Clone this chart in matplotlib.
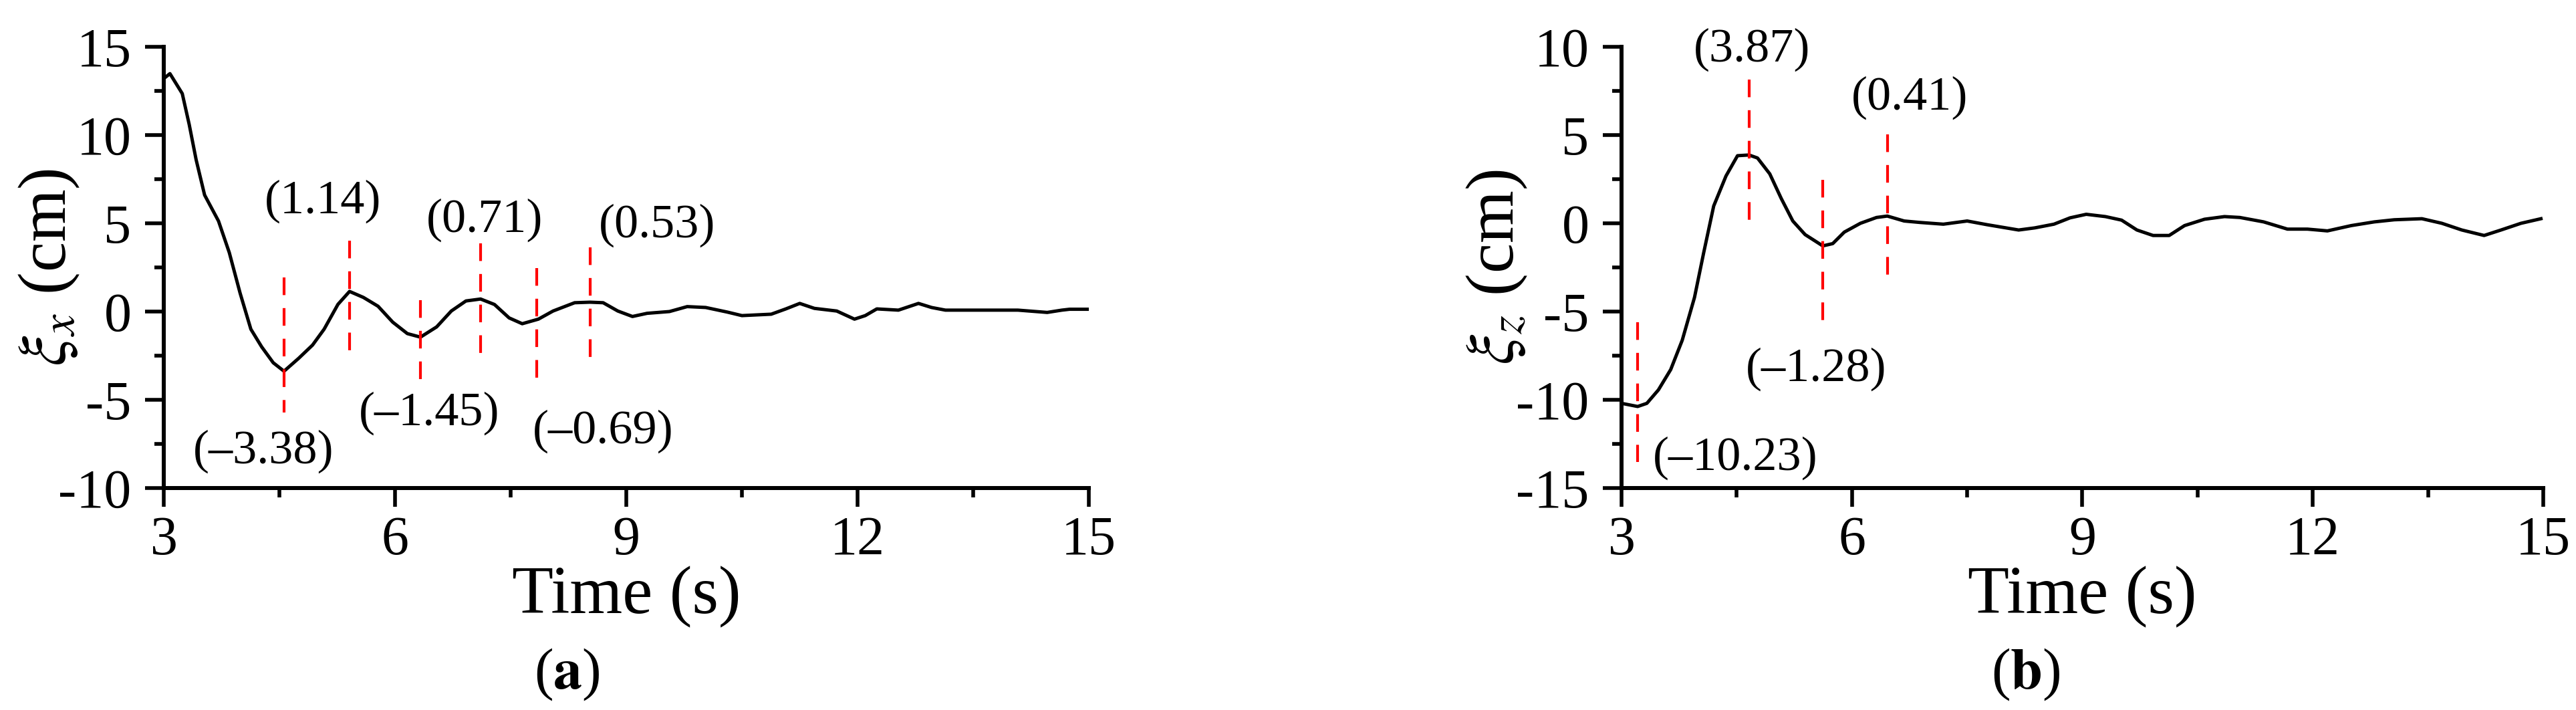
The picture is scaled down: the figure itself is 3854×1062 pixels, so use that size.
import matplotlib
matplotlib.use("Agg")
import matplotlib.pyplot as plt
from matplotlib.ticker import MultipleLocator

plt.rcParams['font.family'] = ['Liberation Serif', 'DejaVu Serif']
plt.rcParams['mathtext.fontset'] = 'stix'
plt.rcParams['axes.unicode_minus'] = False
plt.rcParams['lines.scale_dashes'] = False

# ---------------- data: panel (a) ----------------
t_x = [3.0, 3.08, 3.24, 3.33, 3.42, 3.53, 3.71, 3.85, 3.99, 4.13, 4.27, 4.42, 4.56,
       4.75, 4.93, 5.08, 5.26, 5.41, 5.59, 5.78, 5.97, 6.16, 6.33, 6.54, 6.73, 6.92,
       7.11, 7.29, 7.48, 7.65, 7.86, 8.05, 8.33, 8.53, 8.7, 8.89, 9.08, 9.27, 9.56,
       9.79, 10.03, 10.31, 10.5, 10.88, 11.07, 11.25, 11.44, 11.73, 11.96, 12.1,
       12.25, 12.53, 12.79, 12.96, 13.14, 13.62, 14.08, 14.46, 14.65, 14.75, 15.0]
xi_x = [13.2, 13.48, 12.35, 10.6, 8.6, 6.6, 5.13, 3.34, 1.05, -1.0, -2.0, -2.9, -3.38,
        -2.65, -1.9, -1.0, 0.41, 1.14, 0.8, 0.3, -0.6, -1.25, -1.45, -0.87, 0.03, 0.6,
        0.71, 0.4, -0.36, -0.69, -0.43, 0.03, 0.5, 0.53, 0.5, 0.03, -0.28, -0.1, 0.0,
        0.28, 0.23, -0.03, -0.23, -0.15, 0.15, 0.46, 0.18, 0.03, -0.43, -0.23,
        0.15, 0.08, 0.46, 0.23, 0.08, 0.08, 0.08, -0.05, 0.08, 0.13, 0.13]

mark_t_x = [4.56, 5.41, 6.33, 7.11, 7.84, 8.53]
mark_top_x = [1.94, 4.03, 0.66, 3.85, 2.45, 3.65]
mark_bot_x = [-5.71, -2.27, -3.93, -2.53, -3.80, -2.65]
label_text_x = ['(\u20133.38)', '(1.14)', '(\u20131.45)', '(0.71)', '(\u20130.69)', '(0.53)']
label_t_x = [4.29, 5.06, 6.44, 7.16, 8.70, 9.40]
label_v_x = [-7.93, 6.25, -5.77, 5.19, -6.79, 4.89]

# ---------------- data: panel (b) ----------------
t_z = [3.0, 3.21, 3.33, 3.48, 3.64, 3.79, 3.95, 4.07, 4.20, 4.36, 4.51, 4.66, 4.77,
       4.93, 5.08, 5.23, 5.39, 5.62, 5.75, 5.9, 6.11, 6.32, 6.46, 6.68, 6.88, 7.19,
       7.5, 7.76, 8.17, 8.38, 8.63, 8.84, 9.05, 9.3, 9.51, 9.71, 9.92, 10.13, 10.33,
       10.59, 10.85, 11.05, 11.36, 11.67, 11.93, 12.19, 12.5, 12.8, 13.06, 13.42,
       13.68, 13.94, 14.23, 14.45, 14.71, 14.97]
xi_z = [-10.2, -10.38, -10.2, -9.44, -8.29, -6.63, -4.2, -1.66, 0.98, 2.68, 3.83, 3.87,
        3.7, 2.8, 1.4, 0.13, -0.64, -1.28, -1.15, -0.5, 0.0, 0.33, 0.41, 0.13, 0.05,
        -0.05, 0.13, -0.08, -0.38, -0.26, -0.05, 0.31, 0.51, 0.38, 0.18, -0.38, -0.69,
        -0.69, -0.13, 0.23, 0.38, 0.33, 0.08, -0.33, -0.33, -0.43, -0.13, 0.08, 0.2,
        0.26, 0.0, -0.38, -0.69, -0.38, 0.0, 0.26]

mark_t_z = [3.21, 4.66, 5.62, 6.46]
mark_top_z = [-5.61, 8.16, 2.47, 5.05]
mark_bot_z = [-13.52, 0.13, -5.54, -2.93]
label_text_z = ['(\u201310.23)', '(3.87)', '(\u20131.28)', '(0.41)']
label_t_z = [4.48, 4.70, 5.53, 6.75]
label_v_z = [-13.29, 9.82, -8.27, 7.12]

x_ticks = [3, 6, 9, 12, 15]
ylim_x = (-10, 15)
ylim_z = (-15, 10)

W, H = 3855, 1062
fig = plt.figure(figsize=(W / 100, H / 100), dpi=100)


def make_axes(left_px, right_px, top_px, bottom_px):
    return fig.add_axes([left_px / W, 1 - bottom_px / H,
                         (right_px - left_px) / W, (bottom_px - top_px) / H])


def draw(ax, t, v, mt, mtop, mbot, lt, lx, ly):
    ax.plot(t, v, color='black', lw=3.6, solid_joinstyle='round')
    for ti, a, b in zip(mt, mtop, mbot):
        ax.plot([ti, ti], [a, b], color='#ff0000', lw=3.0, dashes=(19, 14))
    for s, x, y in zip(lt, lx, ly):
        ax.text(x, y, s, fontsize=52, ha='center', va='center')


axL = make_axes(245, 1629, 70, 730)
axR = make_axes(2426, 3805, 70, 730)

draw(axL, t_x, xi_x, mark_t_x, mark_top_x, mark_bot_x, label_text_x, label_t_x, label_v_x)
draw(axR, t_z, xi_z, mark_t_z, mark_top_z, mark_bot_z, label_text_z, label_t_z, label_v_z)

for ax, ylim, lab, lx in [(axL, ylim_x, r'$\xi_x$ (cm)', -0.1236),
                          (axR, ylim_z, r'$\xi_z$ (cm)', -0.135)]:
    ax.set_xlim(3, 15)
    ax.set_ylim(*ylim)
    ax.set_xticks(x_ticks)
    ax.xaxis.set_minor_locator(MultipleLocator(1.5))
    ax.yaxis.set_major_locator(MultipleLocator(5))
    ax.yaxis.set_minor_locator(MultipleLocator(2.5))
    for s in ['top', 'right']:
        ax.spines[s].set_visible(False)
    for s in ['left', 'bottom']:
        ax.spines[s].set_linewidth(4.3)
    ax.tick_params(which='major', direction='out', length=20, width=4.0, labelsize=59)
    ax.tick_params(axis='y', which='major', pad=15)
    ax.tick_params(axis='x', which='major', pad=10)
    ax.tick_params(which='minor', direction='out', length=10, width=4.0)
    ax.set_xlabel('Time (s)', fontsize=73)
    ax.xaxis.label.set_va('baseline')
    ax.xaxis.set_label_coords(0.5, -0.2833)
    ax.set_ylabel(lab, fontsize=73)
    ax.yaxis.label.set_va('center')
    ax.yaxis.set_label_coords(lx, 0.5)

# panel letters: regular parentheses around a bold letter
for x_px, letter in [(848, 'a'), (3031, 'b')]:
    fig.text(x_px / W, 1 - 1030 / H, '(' + r'$\mathbf{' + letter + '}$' + ')',
             fontsize=62, ha='center', va='baseline')

fig.savefig('out.png', dpi=100, facecolor='white')
